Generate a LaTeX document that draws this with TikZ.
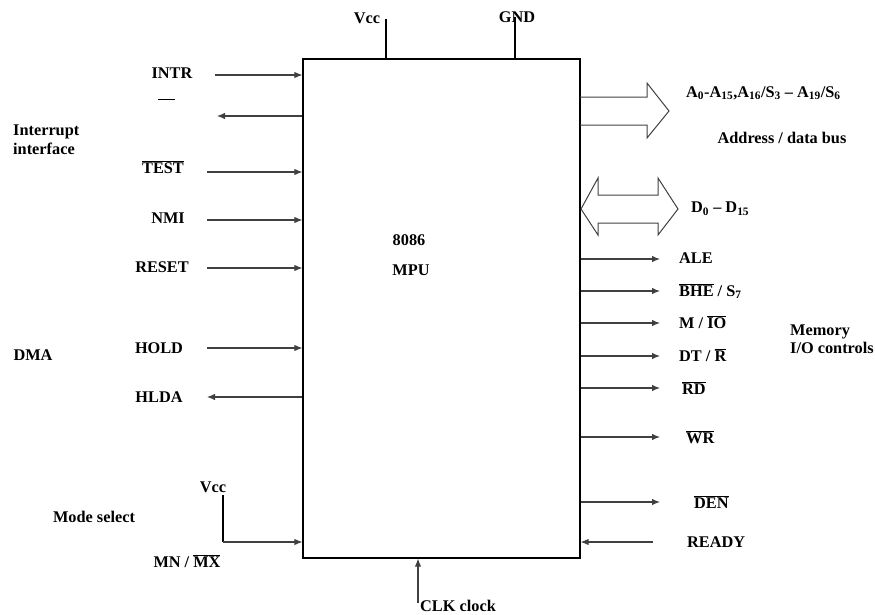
\documentclass[tikz,border=0pt]{standalone}
\usepackage{fontspec}
\setmainfont{Liberation Serif}
\usetikzlibrary{arrows.meta}
\tikzset{
  lbl/.style={inner sep=1pt, font=\fontsize{16.3}{18}\selectfont\bfseries},
  sig/.style={draw=black!75, line width=1.1pt, -{Latex[length=8pt,width=6.5pt]}},
  wire/.style={draw=black, line width=1.1pt},
  bus/.style={draw=black!75, line width=1pt, line join=miter}
}
\begin{document}
\begin{tikzpicture}[x=1pt,y=-1pt]
\useasboundingbox (0,0) rectangle (875,614);
% main box
\node[draw, line width=1.2pt, minimum width=277pt, minimum height=499pt, inner sep=0pt] (mpu) at (441.5,308.5) {};
\node[lbl] (n8086) at (409,240) {8086};
\node[lbl] (nmpu) at (411,270) {MPU};
% top
\node[lbl] (vcct) at (367,18) {Vcc};
\node[lbl] (gnd) at (517,17) {GND};
\coordinate (cvcc) at (386,19);
\coordinate (cgnd) at (515,17);
\draw[wire] (cvcc) -- (cvcc |- mpu.north);
\draw[wire] (cgnd) -- (cgnd |- mpu.north);
% left group labels
\node[lbl, anchor=west, align=left] (intif) at (12,140) {Interrupt\\[1pt]interface};
\node[lbl] (dma) at (33,355) {DMA};
\node[lbl] (mode) at (94,517) {Mode select};
% left signals
\node[lbl] (intr) at (172,73) {INTR};
\node[inner sep=0pt] (inta) at (166.5,99) {\rule{17pt}{1pt}};
\node[lbl] (test) at (163,167) {$\overline{\mbox{TEST}}$};
\node[lbl] (nmi) at (168,218) {NMI};
\node[lbl] (reset) at (162,267) {RESET};
\node[lbl] (hold) at (159,348) {HOLD};
\node[lbl] (hlda) at (159,397) {HLDA};
\coordinate (cintr) at (215,75);
\coordinate (cinta) at (217,116);
\coordinate (ctest) at (207,172);
\coordinate (cnmi) at (207,220);
\coordinate (creset) at (207,268);
\coordinate (chold) at (207,348);
\coordinate (chlda) at (207,397);
\draw[sig] (cintr) -- (cintr -| mpu.west);
\draw[sig] (cinta -| mpu.west) -- (cinta);
\draw[sig] (ctest) -- (ctest -| mpu.west);
\draw[sig] (cnmi) -- (cnmi -| mpu.west);
\draw[sig] (creset) -- (creset -| mpu.west);
\draw[sig] (chold) -- (chold -| mpu.west);
\draw[sig] (chlda -| mpu.west) -- (chlda);
% mode select
\node[lbl] (vccb) at (213,487) {Vcc};
\node[lbl] (mnmx) at (187,561) {MN / $\overline{\mbox{MX}}$};
\coordinate (cvccb) at (223,495);
\coordinate (cmn) at (223,542);
\draw[wire] (cvccb) -- (cmn);
\draw[sig] (cmn) -- (cmn -| mpu.west);
% clock
\node[lbl, anchor=west] (clk) at (419,606) {CLK clock};
\coordinate (cclk) at (418,603);
\draw[sig] (cclk) -- (cclk |- mpu.south);
% address bus
\draw[bus] (580,97) -- (647,97) -- (647,83) -- (669,111) -- (647,138) -- (647,125) -- (580,125);
\node[lbl, anchor=west] (abus) at (685,93) {A\textsubscript{0}-A\textsubscript{15},A\textsubscript{16}/S\textsubscript{3} -- A\textsubscript{19}/S\textsubscript{6}};
\node[lbl] (adbus) at (782,138) {Address / data bus};
% data bus
\draw[bus] (598,195) -- (658,195) -- (658,178) -- (678,209) -- (658,235) -- (658,223) -- (598,223) -- (598,235) -- (581,209) -- (598,178) -- cycle;
\node[lbl, anchor=west] (dbus) at (690,209) {D\textsubscript{0} -- D\textsubscript{15}};
% right signals
\node[lbl, anchor=west] (ale) at (678,258) {ALE};
\node[lbl, anchor=west] (bhe) at (678,291) {$\overline{\mbox{BHE}}$ / S\textsubscript{7}};
\node[lbl, anchor=west] (mio) at (678,322) {M / $\overline{\mbox{IO}}$};
\node[lbl, anchor=west] (dtr) at (678,355) {DT / $\overline{\mbox{R}}$};
\node[lbl, anchor=west] (rd) at (681,388) {$\overline{\mbox{RD}}$};
\node[lbl, anchor=west] (wr) at (685,437) {$\overline{\mbox{WR}}$};
\node[lbl, anchor=west] (den) at (693,502) {$\overline{\mbox{DEN}}$};
\node[lbl, anchor=west] (ready) at (686,542) {READY};
\node[lbl, anchor=west, align=left] (memio) at (789,339) {Memory\\[0pt]I/O controls};
\coordinate (cale) at (660,259);
\coordinate (cbhe) at (660,291);
\coordinate (cmio) at (660,323);
\coordinate (cdtr) at (660,356);
\coordinate (crd) at (660,388);
\coordinate (cwr) at (660,437);
\coordinate (cden) at (660,502);
\coordinate (cready) at (653,542);
\draw[sig] (cale -| mpu.east) -- (cale);
\draw[sig] (cbhe -| mpu.east) -- (cbhe);
\draw[sig] (cmio -| mpu.east) -- (cmio);
\draw[sig] (cdtr -| mpu.east) -- (cdtr);
\draw[sig] (crd -| mpu.east) -- (crd);
\draw[sig] (cwr -| mpu.east) -- (cwr);
\draw[sig] (cden -| mpu.east) -- (cden);
\draw[sig] (cready) -- (cready -| mpu.east);
\end{tikzpicture}
\end{document}
